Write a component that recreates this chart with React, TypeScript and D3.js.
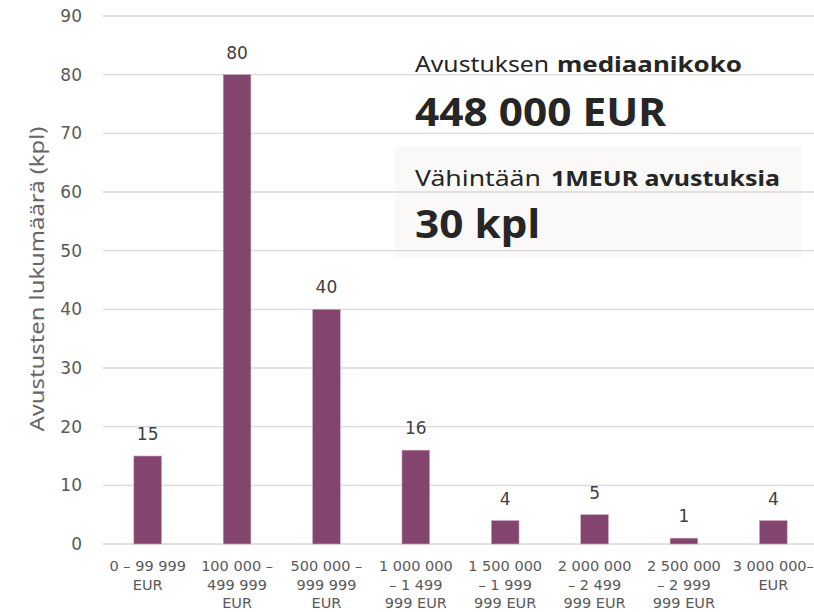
import React from "react";
import * as d3 from "d3";

const categories: string[][] = [
  ["0 – 99 999", "EUR"],
  ["100 000 –", "499 999", "EUR"],
  ["500 000 –", "999 999", "EUR"],
  ["1 000 000", "– 1 499", "999 EUR"],
  ["1 500 000", "– 1 999", "999 EUR"],
  ["2 000 000", "– 2 499", "999 EUR"],
  ["2 500 000", "– 2 999", "999 EUR"],
  ["3 000 000–", "EUR"],
];
const values: number[] = [15, 80, 40, 16, 4, 5, 1, 4];
const yTicks: number[] = [0, 10, 20, 30, 40, 50, 60, 70, 80, 90];
const yTitle = "Avustusten lukumäärä (kpl)";
const box1Label = ["Avustuksen", "mediaanikoko"];
const box1Value = "448 000 EUR";
const box2Label = ["Vähintään", "1MEUR avustuksia"];
const box2Value = "30 kpl";

const W = 814;
const H = 612;
const FONT = "'Noto Sans', 'Open Sans', sans-serif";
const LABEL_FONT = "'DejaVu Sans', sans-serif";

export default function App() {
  const x = d3
    .scaleBand<number>()
    .domain(values.map((_, i) => i))
    .range([103, 818])
    .paddingInner(0.69)
    .paddingOuter(0.345);
  const y = d3.scaleLinear().domain([0, 90]).range([544, 16]);

  return (
    <svg
      width={W}
      height={H}
      style={{ position: "absolute", left: 0, top: 0, display: "block" }}
      fontFamily={FONT}
    >
      <rect x={0} y={0} width={W} height={H} fill="#ffffff" />
      {/* annotation box background */}
      <rect x={395} y={147} width={407} height={111} fill="#faf9f7" />
      {/* gridlines */}
      {yTicks.map((t) => (
        <line
          key={t}
          x1={103}
          x2={W}
          y1={y(t)}
          y2={y(t)}
          stroke="#d9d9d9"
          strokeWidth={1.3}
        />
      ))}
      {/* y tick labels */}
      {yTicks.map((t) => (
        <text
          key={"l" + t}
          x={82}
          y={y(t)}
          dy="0.36em"
          textAnchor="end"
          fontSize={17}
          fontFamily={LABEL_FONT}
          fill="#595959"
        >
          {t}
        </text>
      ))}
      <text
        transform={`translate(44, ${y(45) - 1}) rotate(-90)`}
        textAnchor="middle"
        fontSize={19}
        fill="#666666"
        textLength={305}
        lengthAdjust="spacingAndGlyphs"
      >
        {yTitle}
      </text>
      {/* bars */}
      {values.map((v, i) => (
        <rect
          key={"b" + i}
          x={x(i)!}
          y={y(v)}
          width={x.bandwidth()}
          height={y(0) - y(v)}
          fill="#83446e"
          stroke="#c9a9bf"
          strokeWidth={0.6}
        />
      ))}
      {/* data labels */}
      {values.map((v, i) => (
        <text
          key={"d" + i}
          x={x(i)! + x.bandwidth() / 2}
          y={y(v) - 16}
          textAnchor="middle"
          fontSize={17}
          fontFamily={LABEL_FONT}
          fill="#404040"
        >
          {v}
        </text>
      ))}
      {/* x labels */}
      {categories.map((lines, i) => (
        <text
          key={"c" + i}
          x={x(i)! + x.bandwidth() / 2}
          textAnchor="middle"
          fontSize={14.5}
          fontFamily={LABEL_FONT}
          fill="#595959"
        >
          {lines.map((ln, j) => (
            <tspan key={j} x={x(i)! + x.bandwidth() / 2} y={571 + j * 18.5}>
              {ln}
            </tspan>
          ))}
        </text>
      ))}
      {/* annotations */}
      <text x={415} y={72} fontSize={22} fill="#262626" textLength={134} lengthAdjust="spacingAndGlyphs">
        {box1Label[0]}
      </text>
      <text x={557} y={72} fontSize={22} fontWeight="bold" fill="#262626" textLength={185} lengthAdjust="spacingAndGlyphs">
        {box1Label[1]}
      </text>
      <text x={415} y={126} fontSize={40} fontWeight="bold" fill="#262626" textLength={251} lengthAdjust="spacingAndGlyphs">
        {box1Value}
      </text>
      <text x={415} y={186} fontSize={22} fill="#262626" textLength={126} lengthAdjust="spacingAndGlyphs">
        {box2Label[0]}
      </text>
      <text x={551} y={186} fontSize={22} fontWeight="bold" fill="#262626" textLength={229} lengthAdjust="spacingAndGlyphs">
        {box2Label[1]}
      </text>
      <text x={415} y={238} fontSize={40} fontWeight="bold" fill="#262626" textLength={125} lengthAdjust="spacingAndGlyphs">
        {box2Value}
      </text>
    </svg>
  );
}
